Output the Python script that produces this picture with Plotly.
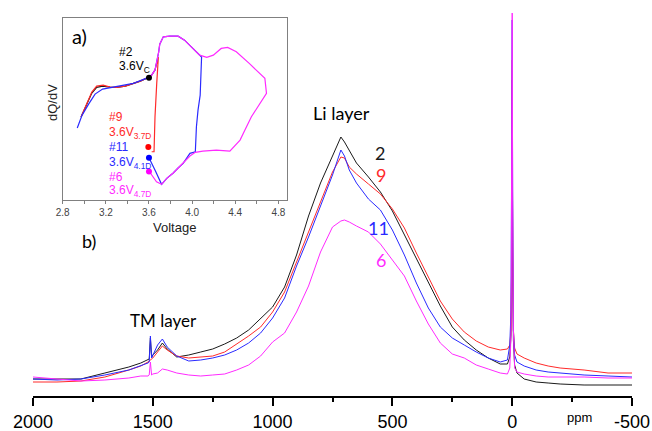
import plotly.graph_objects as go

# ---------------- 7Li NMR spectra (main panel b) ----------------
ppm = [2000, 1900, 1800, 1700, 1600, 1550, 1520, 1515, 1510, 1505,
       1500, 1480, 1460, 1440, 1400, 1350, 1300, 1250, 1200, 1150,
       1100, 1050, 1000, 950, 900, 850, 800, 750, 715, 700,
       680, 650, 600, 550, 500, 450, 400, 350, 300, 250,
       200, 150, 100, 50, 20, 10, 5, 2, 0, -2,
       -5, -10, -20, -50, -100, -150, -200, -300, -400, -500]

spec_2 = [17, 17, 17, 23, 29, 33, 36, 37, 58, 39,
          41, 46, 53, 47, 39, 41, 44, 47, 52, 58,
          66, 77, 89, 109, 141, 180, 213, 240, 259, 254,
          245, 233, 219, 204, 185, 161, 137, 113, 90, 69,
          56, 46, 38, 32, 32, 39, 61, 146, 316, 146,
          56, 31, 23, 17, 14, 13, 12, 11, 11, 11]

spec_9 = [14, 14, 15, 19, 26, 30, 34, 35, 36, 37,
          38, 44, 50, 46, 40, 38, 39, 40, 44, 52,
          60, 69, 84, 104, 134, 163, 195, 224, 239, 238,
          229, 222, 212, 202, 187, 168, 143, 119, 95, 77,
          64, 55, 49, 46, 47, 51, 66, 136, 336, 136,
          66, 48, 42, 38, 33, 30, 28, 26, 23, 23]

spec_11 = [17, 16, 17, 21, 26, 30, 33, 34, 60, 38,
           41, 51, 57, 49, 40, 35, 36, 38, 41, 46,
           53, 63, 78, 98, 130, 159, 190, 221, 246, 240,
           226, 213, 197, 186, 166, 141, 113, 88, 69, 58,
           51, 44, 38, 34, 36, 51, 86, 196, 376, 196,
           66, 41, 34, 30, 26, 24, 23, 21, 20, 19]

spec_6 = [19, 17, 15, 16, 18, 20, 20, 21, 34, 21,
          22, 23, 27, 26, 23, 21, 20, 21, 22, 26,
          31, 40, 54, 63, 84, 110, 144, 169, 175, 176,
          174, 170, 164, 152, 136, 120, 95, 72, 53, 42,
          38, 31, 27, 23, 22, 28, 61, 196, 383, 196,
          66, 28, 24, 22, 20, 19, 19, 19, 18, 18]

ppm_ticks = [2000, 1500, 1000, 500, 0, -500]
ppm_tick_text = ["2000", "1500", "1000", "500", "0", "-500"]

# ---------------- dQ/dV curves (inset a) ----------------
v_2 = [2.97, 3.0, 3.035, 3.07, 3.115, 3.17, 3.24, 3.30, 3.38, 3.455, 3.52, 3.58]
d_2 = [83, 90, 98, 107, 112.7, 114, 113, 112.7, 114, 116.7, 119, 122]

v_9 = [2.97, 3.0, 3.035, 3.07, 3.115, 3.175, 3.24, 3.30, 3.38, 3.455, 3.52, 3.58,
       3.625, 3.656, 3.678, 3.687, 3.672, 3.656, 3.647, 3.625]
d_9 = [83, 90, 99, 108, 114, 115, 113, 112.7, 114, 116.7, 119, 122,
       125, 130, 140, 143, 116.7, 83.3, 48.3, 48.3]

v_11 = [2.935, 2.98, 3.04, 3.10, 3.17, 3.25, 3.35, 3.455, 3.58, 3.625, 3.656,
        3.678, 3.69, 3.70, 3.733, 3.795, 3.87, 3.93, 4.01, 4.07, 4.088,
        4.075, 4.055, 4.04, 4.03, 3.98, 3.917, 3.87, 3.825, 3.765, 3.717,
        3.66, 3.60]
d_11 = [72, 85, 96, 106, 111, 112.5, 114, 116.7, 122, 125, 130,
        140, 148, 156, 163.3, 164, 164, 160, 151.7, 145, 143,
        105, 90, 73, 48.3, 46.7, 36.7, 32, 27, 21.7, 15.7,
        29, 42.3]

v_6 = [3.60, 3.625, 3.656, 3.678, 3.69, 3.70, 3.733, 3.795, 3.87, 3.93, 4.01,
       4.07, 4.10, 4.136, 4.197, 4.27, 4.33, 4.41, 4.53, 4.63, 4.675, 4.69,
       4.63, 4.55, 4.49, 4.445, 4.35, 4.225, 4.10, 4.03, 3.98, 3.917,
       3.87, 3.825, 3.765, 3.717, 3.67, 3.60]
d_6 = [122, 125, 130, 140, 148, 156, 163.3, 164, 164, 160, 151.7,
       145, 144, 142.7, 145, 151.7, 152.7, 148.3, 136.7, 126.7, 121.7, 106.7,
       96.7, 83.3, 70, 60, 49, 50, 49, 47.7, 44, 36.7,
       32, 27, 21.7, 15.7, 18.3, 29]

dot_v = [3.60, 3.594, 3.60, 3.60]
dot_d = [122.3, 53, 42.3, 28.5]

volt_ticks = [2.8, 3.2, 3.6, 4.0, 4.4, 4.8]

BLACK = "#1a1a1a"
RED = "#ff2a2a"
BLUE = "#2a2aff"
MAGENTA = "#ff2aff"
FONT = "Liberation Sans, Arial, sans-serif"
TXT = "Lato, Liberation Sans, sans-serif"

fig = go.Figure()

for y, c in [(spec_2, BLACK), (spec_9, RED), (spec_11, BLUE), (spec_6, MAGENTA)]:
    fig.add_trace(go.Scatter(x=ppm, y=y, mode="lines",
                             line=dict(color=c, width=1), hoverinfo="skip"))

for v, d, c in [(v_2, d_2, BLACK), (v_9, d_9, RED), (v_11, d_11, BLUE), (v_6, d_6, MAGENTA)]:
    fig.add_trace(go.Scatter(x=v, y=d, mode="lines", xaxis="x2", yaxis="y2",
                             line=dict(color=c, width=1.2), hoverinfo="skip"))

fig.add_trace(go.Scatter(x=dot_v, y=dot_d, mode="markers", xaxis="x2", yaxis="y2",
                         marker=dict(color=["#000000", "#ff0000", "#0000ff", "#ff00ff"], size=6),
                         hoverinfo="skip"))

fig.update_layout(
    width=652, height=431,
    margin=dict(l=33, r=20, t=12, b=35, autoexpand=False),
    paper_bgcolor="white", plot_bgcolor="white",
    showlegend=False,
    font=dict(family=FONT, color="black"),
    xaxis=dict(range=[2000, -500], showgrid=False, zeroline=False, automargin=False,
               showline=True, linecolor="black", linewidth=2,
               ticks="outside", ticklen=8, tickwidth=2, tickcolor="black",
               tickvals=ppm_ticks, ticktext=ppm_tick_text,
               tickfont=dict(size=18, family=FONT, color="black"),
               minor=dict(dtick=250, ticks="outside", ticklen=4, tickwidth=2,
                          tickcolor="black", showgrid=False)),
    yaxis=dict(range=[0, 384], visible=False, automargin=False),
    xaxis2=dict(domain=[0.0496, 0.424], anchor="y2", range=[2.8, 4.88], automargin=False,
                showgrid=False, zeroline=False, showline=True, mirror=True,
                linecolor="#808080", linewidth=1,
                ticks="outside", ticklen=3, tickcolor="#808080",
                tickvals=volt_ticks, ticktext=["2.8", "3.2", "3.6", "4.0", "4.4", "4.8"],
                tickfont=dict(size=10, color="#444444", family=FONT),
                minor=dict(dtick=0.2, tick0=2.8, ticks="outside", ticklen=3,
                           tickcolor="#808080", showgrid=False)),
    yaxis2=dict(domain=[0.5104, 0.984], anchor="x2", range=[0, 182], automargin=False,
                showgrid=False, zeroline=False, showline=True, mirror=True,
                linecolor="#808080", linewidth=1, showticklabels=False, ticks=""),
)

ann = []
# main panel labels
ann.append(dict(x=714, y=283, text="Li layer", font=dict(size=18, color="black", family=TXT)))
ann.append(dict(x=552, y=243, text="2", font=dict(size=18, color=BLACK, family=TXT)))
ann.append(dict(x=548, y=221, text="9", font=dict(size=18, color=RED, family=TXT)))
ann.append(dict(x=556, y=168, text="11", font=dict(size=18, color=BLUE, family=TXT)))
ann.append(dict(x=548, y=136, text="6", font=dict(size=18, color=MAGENTA, family=TXT)))
ann.append(dict(x=1457, y=76, text="TM layer", font=dict(size=17, color="black", family=TXT)))
ann.append(dict(x=1766, y=155, text="b)", font=dict(size=18, color="black", family=TXT)))
for a in ann:
    a.update(xref="x", yref="y", showarrow=False, xanchor="center", yanchor="middle")

paper_ann = [
    dict(x=0.913, y=-0.0547, text="ppm", font=dict(size=13, color="black")),
    dict(x=0.0317, y=0.7656, text="dQ/dV", textangle=-90, font=dict(size=13, color="#222222")),
    dict(x=0.237, y=0.440, text="Voltage", font=dict(size=13, color="#222222")),
]
for a in paper_ann:
    a.update(xref="paper", yref="paper", showarrow=False, xanchor="center", yanchor="middle")

inset_ann = [
    dict(x=2.959, y=164, text="a)", xanchor="center", font=dict(size=20, color="black", family=TXT)),
    dict(x=3.304, y=148, text="#2", xanchor="left", font=dict(size=12, color="black")),
    dict(x=3.304, y=133, text="3.6V<sub>C</sub>", xanchor="left", font=dict(size=12, color="black")),
    dict(x=3.211, y=83, text="#9", xanchor="left", font=dict(size=12, color=RED)),
    dict(x=3.211, y=67, text="3.6V<sub>3.7D</sub>", xanchor="left", font=dict(size=12, color=RED)),
    dict(x=3.211, y=53, text="#11", xanchor="left", font=dict(size=12, color=BLUE)),
    dict(x=3.211, y=37, text="3.6V<sub>4.1D</sub>", xanchor="left", font=dict(size=12, color=BLUE)),
    dict(x=3.211, y=23, text="#6", xanchor="left", font=dict(size=12, color=MAGENTA)),
    dict(x=3.211, y=9, text="3.6V<sub>4.7D</sub>", xanchor="left", font=dict(size=12, color=MAGENTA)),
]
for a in inset_ann:
    a.update(xref="x2", yref="y2", showarrow=False, yanchor="middle")

fig.update_layout(annotations=ann + paper_ann + inset_ann)

fig.write_html("out.html")
